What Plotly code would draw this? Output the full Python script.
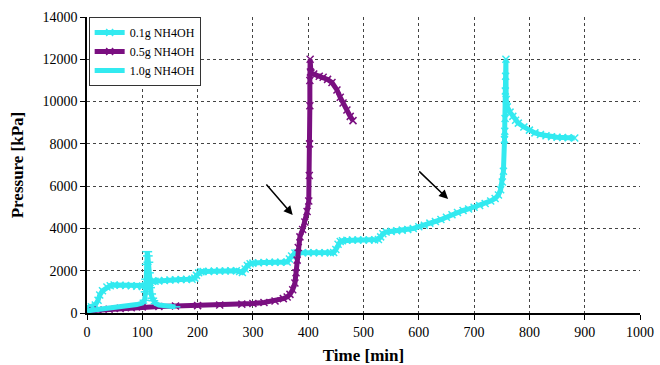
import plotly.graph_objects as go

# 0.1g NH4OH (long cyan series)
t_01 = [0, 8, 15, 20, 23, 28, 36, 42, 49, 60, 70, 80, 90, 100, 106, 110, 114, 118, 123,
        130, 140, 150, 160, 170, 180, 190, 195, 198, 202, 206, 210, 220, 230, 240, 250,
        260, 270, 276, 281, 286, 290, 295, 300, 310, 320, 330, 340, 350, 362, 366, 370,
        376, 380, 390, 400, 410, 420, 430, 440, 446, 450, 454, 458, 462, 470, 480, 490,
        500, 510, 520, 527, 531, 535, 541, 550, 560, 570, 580, 590, 600, 610, 620, 630,
        640, 650, 660, 670, 680, 690, 700, 710, 720, 730, 738, 744, 748, 751, 753, 755,
        755.5, 756, 756.5, 757, 757.5, 758, 760, 765, 770, 775, 780, 790, 800, 810, 820,
        830, 840, 850, 860, 870, 882]
p_01 = [240, 300, 380, 600, 850, 1050, 1230, 1290, 1320, 1310, 1300, 1290, 1270, 1250,
        1300, 1380, 1450, 1500, 1500, 1520, 1540, 1560, 1570, 1580, 1590, 1600, 1650,
        1780, 1900, 1950, 1960, 1970, 1980, 1990, 1990, 2000, 2000, 1960, 1920, 2080,
        2250, 2330, 2360, 2380, 2390, 2400, 2400, 2400, 2410, 2550, 2700, 2840, 2850,
        2850, 2850, 2850, 2850, 2850, 2850, 2860, 3000, 3250, 3380, 3420, 3440, 3450,
        3450, 3450, 3450, 3460, 3480, 3600, 3750, 3830, 3860, 3890, 3920, 3950, 4000,
        4080, 4150, 4250, 4330, 4420, 4530, 4650, 4750, 4850, 4920, 5000, 5080, 5180,
        5300, 5420, 5580, 5830, 6200, 6700, 8200, 8600, 9200, 10500, 11200, 12000,
        10100, 9750, 9500, 9300, 9120, 8980, 8800, 8650, 8520, 8440, 8380, 8340, 8310,
        8300, 8290, 8280]

# 0.5g NH4OH (purple series)
t_05 = [0, 20, 40, 60, 80, 100, 130, 160, 200, 240, 280, 300, 320, 340, 355, 362, 367,
        372, 376, 378, 380, 382, 385, 390, 394, 398, 401, 402, 402.5, 403, 403, 403.5,
        404, 405, 410, 420, 427, 435, 443, 452, 458, 463, 470, 476, 481]
p_05 = [100, 140, 180, 220, 250, 290, 310, 330, 350, 380, 420, 450, 500, 570, 680, 760,
        880, 1100, 1420, 1900, 2500, 3100, 3600, 3950, 4300, 4800, 5300, 6500, 8000,
        9800, 11000, 12000, 11400, 11350, 11300, 11200, 11150, 11050, 10900, 10550,
        10200, 9930, 9600, 9300, 9100]

# 1.0g NH4OH (short cyan series)
t_10 = [0, 10, 20, 30, 40, 50, 60, 70, 80, 90, 100, 104, 106, 107, 108, 109, 110, 111,
        112, 113, 114, 116, 118, 120, 124, 130, 140, 150, 160]
p_10 = [100, 130, 160, 190, 220, 250, 280, 320, 360, 400, 470, 600, 1000, 1600, 2300,
        2900, 2700, 2400, 1900, 1500, 1200, 900, 700, 580, 450, 380, 330, 300, 290]

x_ticks = [0, 100, 200, 300, 400, 500, 600, 700, 800, 900, 1000]
y_ticks = [0, 2000, 4000, 6000, 8000, 10000, 12000, 14000]

CYAN = "#33EAF0"
PURPLE = "#7A0F80"
FONT = "Liberation Serif"

fig = go.Figure()
fig.add_trace(go.Scatter(
    x=t_01, y=p_01, mode="lines+markers", name="0.1g NH4OH",
    line=dict(color=CYAN, width=5),
    marker=dict(symbol="x-thin", size=7, line=dict(color=CYAN, width=1.5))))
fig.add_trace(go.Scatter(
    x=t_05, y=p_05, mode="lines+markers", name="0.5g NH4OH",
    line=dict(color=PURPLE, width=5),
    marker=dict(symbol="x-thin", size=7, line=dict(color=PURPLE, width=1.5))))
fig.add_trace(go.Scatter(
    x=t_10, y=p_10, mode="lines+markers", name="1.0g NH4OH",
    line=dict(color=CYAN, width=5),
    marker=dict(symbol="line-ew", size=7, line=dict(color=CYAN, width=1.5))))

# arrows
for (x0, y0, x1, y1) in [(322, 6150, 372, 4635), (598, 6765, 653, 5390)]:
    fig.add_annotation(x=x1, y=y1, ax=x0, ay=y0, xref="x", yref="y",
                       axref="x", ayref="y", showarrow=True, arrowhead=2,
                       arrowsize=1.2, arrowwidth=1.5, arrowcolor="black", text="")

fig.update_layout(
    width=660, height=365,
    margin=dict(l=87, r=20, t=17, b=52, autoexpand=False),
    paper_bgcolor="white", plot_bgcolor="white",
    font=dict(family=FONT, color="black", size=14),
    showlegend=True,
    legend=dict(x=0.003, y=1.0, xanchor="left", yanchor="top",
                bgcolor="white", bordercolor="#333", borderwidth=1,
                font=dict(family=FONT, size=12), itemwidth=30,
                tracegroupgap=0),
)
fig.update_xaxes(
    range=[0, 1000], tickvals=x_ticks, ticktext=[str(v) for v in x_ticks],
    showline=True, linecolor="black", linewidth=1.5,
    ticks="outside", ticklen=5, tickcolor="black",
    showgrid=True, gridcolor="#444", griddash="3px,3px", gridwidth=1,
    zeroline=False, automargin=False,
    title=dict(text="<b>Time [min]</b>", font=dict(family=FONT, size=17)),
)
fig.update_yaxes(
    range=[0, 14000], tickvals=y_ticks, ticktext=[str(v) for v in y_ticks],
    showline=True, linecolor="black", linewidth=1.5,
    ticks="outside", ticklen=5, tickcolor="black",
    showgrid=True, gridcolor="#444", griddash="3px,3px", gridwidth=1,
    zeroline=False, automargin=False,
    title=dict(text="<b>Pressure [kPa]</b>", font=dict(family=FONT, size=17)),
)

fig.write_html("out.html")
